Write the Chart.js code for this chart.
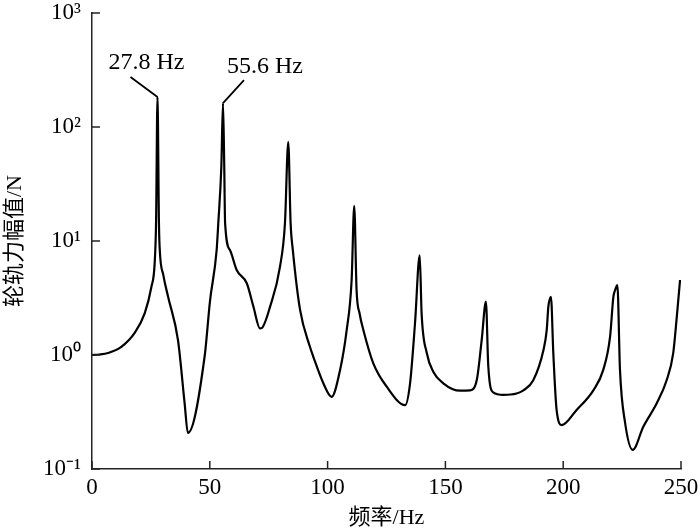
<!DOCTYPE html>
<html><head><meta charset="utf-8">
<script src="https://cdn.jsdelivr.net/npm/chart.js@4.4.1/dist/chart.umd.min.js"></script>
<style>html,body{margin:0;padding:0;background:#fff;}#wrap{width:700px;height:531px;}</style>
</head><body><div id="wrap"><canvas id="c" width="700" height="531"></canvas></div>
<script>
const frequency = [0,3,6.8,12.3,18.1,22.4,25.2,26.6,27.2,27.8,28.4,28.7,30.3,32.3,36.5,39.3,40.7,47.8,50.1,52.9,53.6,54.9,55.6,56.1,56.5,58.6,61.4,65.7,68.5,71.3,72,75.6,79.8,81.9,83.3,84.3,85.2,88.3,92.5,93.9,98.2,101.7,105.3,108.1,110.2,111.3,112.3,113.6,115.2,119.4,125.1,132.9,135,137.1,139.1,139.9,142.1,144.9,149.1,156.2,160.4,163.3,165.4,167.2,168.2,170.3,174.6,180.2,183.1,187.3,191.6,193,193.7,194.8,195.8,197.2,199.4,205.7,212.8,217,219.9,221.3,222,223,224.1,226.2,229.5,234,239.7,243.9,246.7,248.1,249.6];
const force = [1.0,1.01,1.04,1.17,1.56,2.33,3.95,6.4,15,183,15,8.85,5.0,3.24,1.35,0.38,0.207,0.97,3.0,8.3,14.3,45,162,50,14.3,8.3,5.57,4.26,2.66,1.71,1.72,2.66,5.96,14.3,74,14.3,8.5,2.5,1.18,0.97,0.565,0.43,0.74,1.65,4.55,20.3,3.7,2.3,1.65,0.845,0.527,0.363,0.565,1.9,7.5,2.32,1.04,0.71,0.565,0.486,0.49,0.6,1.35,2.94,0.8,0.47,0.447,0.46,0.49,0.6,1.1,1.65,2.66,3.24,1.04,0.33,0.243,0.33,0.49,0.74,1.45,3.24,3.7,4.1,0.74,0.26,0.147,0.235,0.377,0.6,1.04,2.03,4.55];
const xTicks = [0,50,100,150,200,250];
const yTicks = [0.1,1,10,100,1000];
const yTickLabels = ['10\u207B\u00B9','10\u2070','10\u00B9','10\u00B2','10\u00B3'];
const peakFreqs = [27.8,55.6];
const peakLabels = ['27.8 Hz','55.6 Hz'];
const xTitle = '频率/Hz';
const yTitle = '轮轨力幅值/N';

const FONT = '"Liberation Serif","Times New Roman","Noto Sans CJK SC",serif';
const AX = '#222';

const overlay = {
  id:'overlay',
  afterDraw(chart){
    const {ctx, chartArea:a, scales:{x,y}} = chart;
    ctx.save();
    ctx.strokeStyle = AX; ctx.lineWidth = 1.5;
    xTicks.forEach(v=>{const px=x.getPixelForValue(v);ctx.beginPath();ctx.moveTo(px,a.bottom);ctx.lineTo(px,a.bottom-8);ctx.stroke();});
    yTicks.forEach(v=>{const py=y.getPixelForValue(v);ctx.beginPath();ctx.moveTo(a.left,py);ctx.lineTo(a.left+8,py);ctx.stroke();});
    const offs = [{lx:-27,ly:-20,tx:-11,ty:-34},{lx:21,ly:-23,tx:42,ty:-36}];
    ctx.strokeStyle='#000'; ctx.lineWidth=1.8; ctx.fillStyle='#000';
    ctx.font = '24px '+FONT; ctx.textAlign='center'; ctx.textBaseline='middle';
    peakFreqs.forEach((f,i)=>{
      const k = frequency.indexOf(f);
      const px = x.getPixelForValue(frequency[k]), py = y.getPixelForValue(force[k]);
      const o = offs[i];
      ctx.beginPath(); ctx.moveTo(px,py); ctx.lineTo(px+o.lx,py+o.ly); ctx.stroke();
      ctx.fillText(peakLabels[i], px+o.tx, py+o.ty);
    });
    ctx.restore();
  }
};

new Chart(document.getElementById('c'), {
  type:'line',
  data:{datasets:[{data:frequency.map((f,i)=>({x:f,y:force[i]})),borderColor:'#000',borderWidth:2.2,pointRadius:0,cubicInterpolationMode:'monotone',borderJoinStyle:'round',fill:false}]},
  options:{
    responsive:false, animation:false, devicePixelRatio:1,
    layout:{padding:{left:0,right:19,top:13,bottom:0}},
    plugins:{legend:{display:false},tooltip:{enabled:false}},
    scales:{
      x:{type:'linear',min:0,max:250,
        afterBuildTicks(s){s.ticks=xTicks.map(v=>({value:v}));},
        afterFit(s){s.height=62;s.paddingLeft=0;s.paddingRight=0;},
        grid:{display:true,drawOnChartArea:false,drawTicks:false},
        border:{display:true,color:AX,width:1.5},
        ticks:{color:'#000',font:{family:FONT,size:23},padding:5,maxRotation:0,autoSkip:false},
        title:{display:true,text:xTitle,color:'#000',font:{family:FONT,size:22},padding:{top:0,bottom:0}}
      },
      y:{type:'logarithmic',min:0.1,max:1000,
        afterBuildTicks(s){s.ticks=yTicks.map(v=>({value:v}));},
        afterFit(s){s.width=92;s.paddingTop=0;s.paddingBottom=0;},
        grid:{display:true,drawOnChartArea:false,drawTicks:false},
        border:{display:true,color:AX,width:1.5},
        ticks:{color:'#000',font:{family:FONT,size:23},padding:11,autoSkip:false,
          callback(v){const k=yTicks.indexOf(v);return k>=0?yTickLabels[k]:'';}},
        title:{display:true,text:yTitle,color:'#000',font:{family:FONT,size:22},padding:{top:2,bottom:0}}
      }
    }
  },
  plugins:[overlay]
});
</script></body></html>
